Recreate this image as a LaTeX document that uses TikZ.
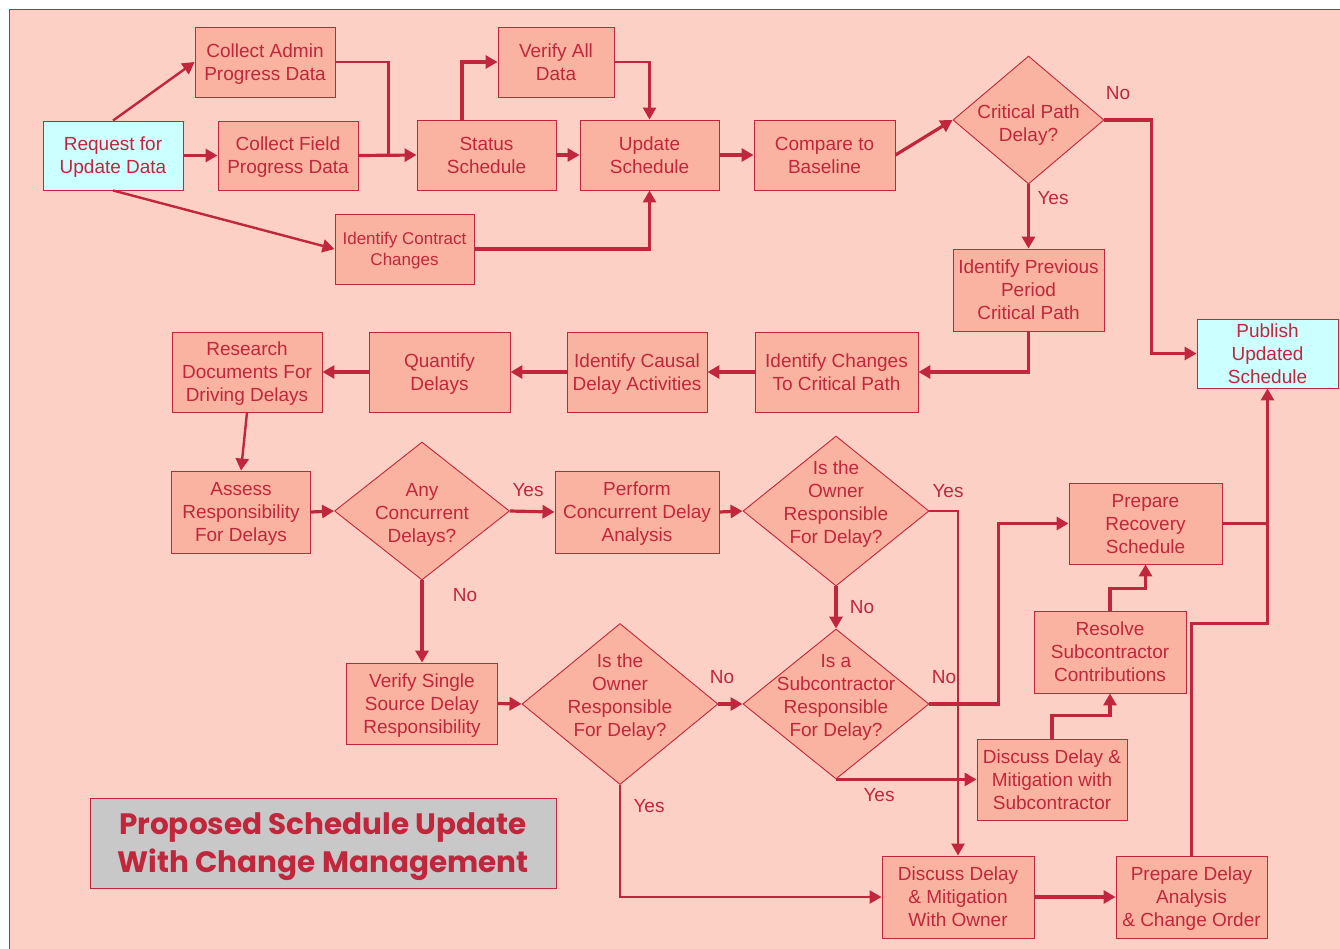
\documentclass[tikz,border=0pt]{standalone}
\usepackage{fontspec}
\setmainfont{Liberation Sans}
\newfontfamily\titlefont{Poppins}
\usetikzlibrary{arrows.meta,shapes.geometric,calc}
\definecolor{bgpink}{RGB}{252,208,196}
\definecolor{boxfill}{RGB}{249,179,160}
\definecolor{lnred}{RGB}{193,39,60}
\definecolor{cyanfill}{RGB}{204,255,255}
\definecolor{titlegray}{RGB}{200,200,200}
\tikzset{
  box/.style={draw=lnred, line width=0.9pt, fill=boxfill, text=lnred, align=center,
    inner sep=0pt, text depth=-1pt, font=\fontsize{19}{23}\selectfont},
  cbox/.style={box, fill=cyanfill},
  dia/.style={diamond, draw=lnred, line width=0.9pt, fill=boxfill, inner sep=0pt},
  diatext/.style={text=lnred, align=center, font=\fontsize{19}{23}\selectfont},
  lbl/.style={text=lnred, font=\fontsize{19}{23}\selectfont, inner sep=0pt},
  conn/.style={draw=lnred, line width=3.2pt, -{Triangle[length=12pt,width=13pt]}},
  thinconn/.style={draw=lnred, line width=2.4pt, -{Triangle[length=12pt,width=13pt]}},
  plainln/.style={draw=lnred, line width=2.6pt},
}
\begin{document}
\begin{tikzpicture}[x=1pt,y=-1pt]
\useasboundingbox (0,0) rectangle (1340,948);
\fill[white] (0,0) rectangle (1340,948);
\fill[bgpink] (9,9) rectangle (1350,960);
\draw[lnred, line width=0.8pt] (9,960) -- (9,9) -- (1350,9);

% top section
\node[cbox, minimum width=140, minimum height=69] (req) at (113,155.5) {Request for\\Update Data};
\node[box, minimum width=140, minimum height=70] (adm) at (265,62) {Collect Admin\\Progress Data};
\node[box, minimum width=140, minimum height=69] (fld) at (288,155.5) {Collect Field\\Progress Data};
\node[box, minimum width=139, minimum height=70, font=\fontsize{17}{21}\selectfont] (ctr) at (404.5,249) {Identify Contract\\Changes};
\node[box, minimum width=139, minimum height=70] (sts) at (486.5,155) {Status\\Schedule};
\node[box, minimum width=116, minimum height=70] (ver) at (556,62) {Verify All\\Data};
\node[box, minimum width=139, minimum height=70] (upd) at (649.5,155) {Update\\Schedule};
\node[box, minimum width=141, minimum height=70] (cmp) at (824.5,155) {Compare to\\Baseline};
\node[dia, minimum width=151, minimum height=128] (cpd) at (1028.5,120) {};
\node[diatext] (cpdt) at (1028.5,125) {Critical Path\\Delay?};
\node[box, minimum width=151, minimum height=82] (ipp) at (1028.5,290) {Identify Previous\\Period\\Critical Path};
\node[cbox, minimum width=141, minimum height=69] (pub) at (1267.5,353.5) {Publish\\Updated\\Schedule};

% second row
\node[box, minimum width=163, minimum height=80] (ich) at (836.5,372) {Identify Changes\\To Critical Path};
\node[box, minimum width=140, minimum height=80] (ica) at (637,372) {Identify Causal\\Delay Activities};
\node[box, minimum width=141, minimum height=80] (qty) at (439.5,372) {Quantify\\Delays};
\node[box, minimum width=150, minimum height=80] (res) at (247,372) {Research\\Documents For\\Driving Delays};

% third row
\node[box, minimum width=139, minimum height=82] (asr) at (241,512) {Assess\\Responsibility\\For Delays};
\node[dia, minimum width=175, minimum height=138] (acd) at (422,511) {};
\node[diatext] (acdt) at (422,515) {Any\\Concurrent\\Delays?};
\node[box, minimum width=164, minimum height=82] (pcd) at (637,512) {Perform\\Concurrent Delay\\Analysis};
\node[dia, minimum width=186, minimum height=150] (own1) at (836,511) {};
\node[diatext] (own1t) at (836,504) {Is the\\Owner\\Responsible\\For Delay?};

% lower rows
\node[box, minimum width=151, minimum height=81] (vss) at (422,703.5) {Verify Single\\Source Delay\\Responsibility};
\node[dia, minimum width=196, minimum height=161] (own2) at (620,704) {};
\node[diatext] (own2t) at (620,697) {Is the\\Owner\\Responsible\\For Delay?};
\node[dia, minimum width=186, minimum height=150] (sub) at (836,704) {};
\node[diatext] (subt) at (836,697) {Is a\\Subcontractor\\Responsible\\For Delay?};
\node[box, minimum width=153, minimum height=81] (rec) at (1145.5,523.5) {Prepare\\Recovery\\Schedule};
\node[box, minimum width=152, minimum height=82] (rsc) at (1110,652) {Resolve\\Subcontractor\\Contributions};
\node[box, minimum width=150, minimum height=81] (dms) at (1052,780) {Discuss Delay \&\\Mitigation with\\Subcontractor};
\node[box, minimum width=152, minimum height=82] (dmo) at (958,897) {Discuss Delay\\\& Mitigation\\With Owner};
\node[box, minimum width=151, minimum height=82] (pda) at (1191.5,897) {Prepare Delay\\Analysis\\\& Change Order};

% title
\node[draw=lnred, line width=0.9pt, fill=titlegray, minimum width=466, minimum height=90,
  text=lnred, align=center, inner sep=0pt, text depth=-2pt,
  font=\titlefont\bfseries\fontsize{29.5}{38}\selectfont] (title) at (323,843)
  {Proposed Schedule Update\\With Change Management};

% connectors top
\draw[thinconn] (req.north) -- (adm.west);
\draw[conn] (req.east) -- (fld.west);
\draw[thinconn] (req.south) -- (ctr.west);
\draw[plainln] (adm.east) -| ($(sts.west)+(-28,0)$);
\draw[conn] (fld.east) -- (sts.west);
\draw[conn] ([xshift=-24.5pt]sts.north) |- (ver.west);
\draw[thinconn] (ver.east) -| (upd.north);
\draw[conn] (sts.east) -- (upd.west);
\draw[conn] (ctr.east) -| (upd.south);
\draw[conn] (upd.east) -- (cmp.west);
\draw[conn] (cmp.east) -- (cpd.west);
\draw[conn] (cpd.east) -| ($(pub.west)+(-45,0)$) -- (pub.west);
\draw[conn] (cpd.south) -- (ipp.north);
\draw[conn] (ipp.south) |- (ich.east);

% second row connectors
\draw[conn] (ich.west) -- (ica.east);
\draw[conn] (ica.west) -- (qty.east);
\draw[conn] (qty.west) -- (res.east);
\draw[thinconn] (res.south) -- (asr.north);

% third row connectors
\draw[conn] (asr.east) -- (acd.west);
\draw[conn] (acd.east) -- (pcd.west);
\draw[conn] (pcd.east) -- (own1.west);
\draw[thinconn] (own1.east) -| (dmo.north);
\draw[conn] (own1.south) -- (sub.north);
\draw[conn] (acd.south) -- (vss.north);
\draw[conn] (vss.east) -- (own2.west);
\draw[conn] (own2.east) -- (sub.west);
\draw[thinconn] (own2.south) |- (dmo.west);
\draw[conn] (sub.east) -| ($(rec.west)+(-70,0)$) -- (rec.west);
\draw[conn] (sub.south) -- (sub.south -| dms.west);
\draw[conn] (dms.north) |- ($(rsc.south)+(0,22)$) -- (rsc.south);
\draw[conn] (rsc.north) |- ($(rec.south)+(0,24)$) -- (rec.south);
\draw[conn] (dmo.east) -- (pda.west);
\draw[conn] (pda.north) |- ($(pub.south)+(0,235)$) -- (pub.south);
\draw[plainln] (rec.east) -- (rec.east -| pub.south);

% labels
\node[lbl] (l1) at (1118,93) {No};
\node[lbl] (l2) at (1053,198) {Yes};
\node[lbl] (l3) at (528,490) {Yes};
\node[lbl] (l4) at (948,491) {Yes};
\node[lbl] (l5) at (862,607) {No};
\node[lbl] (l6) at (465,595) {No};
\node[lbl] (l7) at (722,677) {No};
\node[lbl] (l8) at (944,677) {No};
\node[lbl] (l9) at (879,795) {Yes};
\node[lbl] (l10) at (649,806) {Yes};
\end{tikzpicture}
\end{document}
